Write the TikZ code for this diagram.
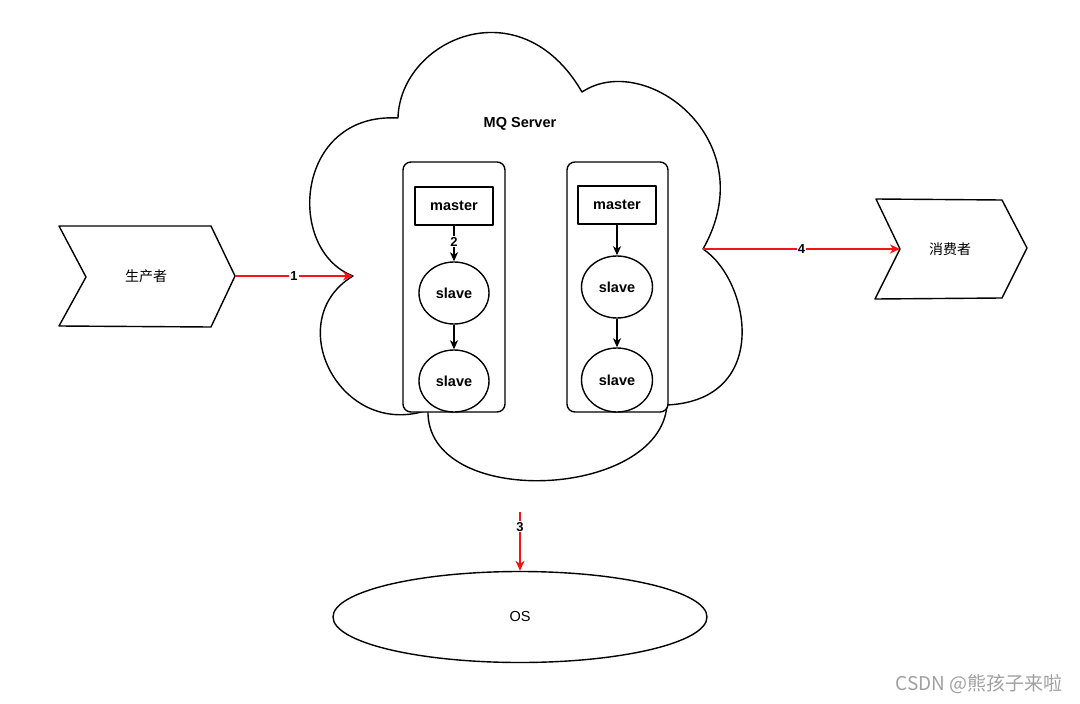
\documentclass[tikz,border=0pt]{standalone}
\usepackage{fontspec}
\setmainfont{Liberation Sans}
\newfontfamily\cjk{Noto Sans CJK SC}
\usetikzlibrary{arrows.meta,shapes.geometric}
\definecolor{arrowred}{RGB}{245,20,20}
\definecolor{wmgray}{RGB}{160,160,160}
\begin{document}
\begin{tikzpicture}[x=1pt,y=-1pt,
  sk/.style={draw=black, line width=1.4pt, line join=round},
  boxst/.style={sk, rectangle, fill=white, rounded corners=8pt, minimum width=102pt, minimum height=250pt, inner sep=0pt},
  masterst/.style={sk, rectangle, fill=white, minimum width=78pt, minimum height=38pt, inner sep=0pt, font=\fontsize{14.5}{16}\selectfont\bfseries},
  slavest/.style={sk, ellipse, fill=white, minimum width=70pt, minimum height=62pt, inner sep=0pt, font=\fontsize{14.5}{16}\selectfont\bfseries},
  blk/.style={draw=black, line width=1.2pt, -{Stealth[length=9pt,width=8pt,inset=2.5pt]}},
  redarr/.style={draw=arrowred, line width=1.3pt, -{Stealth[length=10pt,width=9pt,inset=3pt]}},
  lbl/.style={fill=white, inner sep=1pt, text=black, font=\fontsize{13}{14}\selectfont\bfseries},
  txt/.style={font=\fontsize{14.5}{16}\selectfont},
  cjktxt/.style={font=\cjk\fontsize{14}{16}\selectfont}
]
\useasboundingbox (0,0) rectangle (1080,704);

% cloud cusps
\coordinate (cL) at (353,276);
\coordinate (cB) at (398,118);
\coordinate (cC) at (582,92);
\coordinate (cR) at (703,249);
\coordinate (cE) at (667,405);
\coordinate (cF) at (428,410);

\draw[sk, fill=white] (cL) .. controls (285,250) and (295,112) .. (cB)
  .. controls (400,40) and (520,-15) .. (cC)
  .. controls (645,50) and (765,140) .. (cR)
  .. controls (750,280) and (772,400) .. (cE)
  .. controls (660,500) and (425,510) .. (cF)
  .. controls (340,440) and (280,320) .. (cL) -- cycle;

\node[font=\fontsize{14.5}{16}\selectfont\bfseries] (mq) at (520,124) {MQ Server};

% boxes
\node[boxst] (boxL) at (454,287) {};
\node[boxst, minimum width=101pt] (boxR) at (617.5,287) {};

\node[masterst] (mL) at (454,206) {master};
\node[masterst] (mR) at (617,205) {master};
\node[slavest] (sL1) at (454,293) {slave};
\node[slavest] (sL2) at (454,381) {slave};
\node[slavest, minimum width=71pt] (sR1) at (617,287) {slave};
\node[slavest, minimum width=71pt, minimum height=64pt] (sR2) at (617,380) {slave};

\draw[blk] (mL) -- (sL1) node[lbl, pos=0.45] {2};
\draw[blk] (sL1) -- (sL2);
\draw[blk] (mR) -- (sR1);
\draw[blk] (sR1) -- (sR2);

% producer
\coordinate (p1) at (59,226);
\coordinate (p2) at (211,226);
\coordinate (pTip) at (235,276);
\coordinate (p4) at (211,327);
\coordinate (p5) at (59,326);
\coordinate (p6) at (86,277);
\draw[sk] (p1) -- (p2) -- (pTip) -- (p4) -- (p5) -- (p6) -- cycle;
\node[cjktxt] (prod) at (146,276) {生产者};

% consumer
\coordinate (q1) at (876,199);
\coordinate (q2) at (1002,200);
\coordinate (q3) at (1027,248);
\coordinate (q4) at (1002,298);
\coordinate (q5) at (875,299);
\coordinate (qN) at (900,249);
\draw[sk] (q1) -- (q2) -- (q3) -- (q4) -- (q5) -- (qN) -- cycle;
\node[cjktxt] (cons) at (950,249) {消费者};

% OS
\node[sk, ellipse, minimum width=374pt, minimum height=91pt, inner sep=0pt, txt] (os) at (520,617) {OS};

% red arrows
\draw[redarr] (pTip) -- (cL) node[lbl, midway] {1};
\draw[redarr] (cR) -- (qN) node[lbl, midway] {4};
\coordinate (c3) at (520,512);
\draw[redarr] (c3) -- (os.north) node[lbl, pos=0.25] {3};

% watermark
\node[text=wmgray, font=\cjk\fontsize{19}{20}\selectfont] (wm) at (979,684) {CSDN @熊孩子来啦};
\end{tikzpicture}
\end{document}
